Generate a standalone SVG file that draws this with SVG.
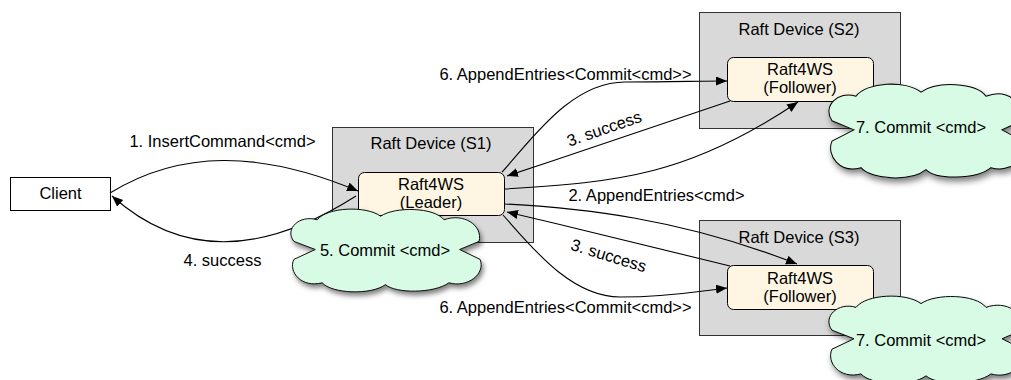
<svg xmlns="http://www.w3.org/2000/svg" width="1011" height="380" viewBox="0 0 1011 380">
<style>
text{font-family:"Liberation Sans",Arial,sans-serif;font-size:16.5px;fill:#000}
.c{text-anchor:middle}
.dev{fill:#d9d9d9;stroke:#333;stroke-width:1}
.proc{fill:#fef6e3;stroke:#000;stroke-width:1}
.cloud{fill:#d8fbe5;stroke:#000;stroke-width:1;filter:url(#sh)}
.e{fill:none;stroke:#000;stroke-width:1.1}
.a{marker-end:url(#ah)}
</style>
<defs>
<marker id="ah" markerUnits="userSpaceOnUse" markerWidth="12" markerHeight="10" refX="11" refY="4.5" orient="auto">
<path d="M0,0 L11,4.5 L0,9 Z" fill="#000"/>
</marker>
<filter id="sh" x="-10%" y="-10%" width="130%" height="140%">
<feDropShadow dx="2" dy="4" stdDeviation="3" flood-color="#000" flood-opacity="0.5"/>
</filter>
<path id="cl" d="M28 45 L6 36 C-4 22 12 6 30 12 C40 -2 80 -4 95 8 C110 -3 150 -2 160 12 C180 4 200 18 196 36 L176 45 L197 56 C203 72 184 88 165 82 C150 94 110 94 100 84 C85 96 45 94 35 82 C14 88 0 70 6 56 Z"/>
</defs>

<g id="client">
<rect x="10.5" y="177.5" width="100" height="33" fill="#fff" stroke="#000"/>
<text class="c" x="60.5" y="199">Client</text>
</g>

<g id="s1">
<rect class="dev" x="332.5" y="127.5" width="201" height="115"/>
<text class="c" x="431" y="149">Raft Device (S1)</text>
</g>
<g id="leader">
<rect class="proc" x="358.5" y="172.5" width="146" height="43" rx="6"/>
<text class="c" x="431" y="190">Raft4WS</text>
<text class="c" x="431" y="208">(Leader)</text>
</g>

<g id="s2">
<rect class="dev" x="699.5" y="12.5" width="201" height="116"/>
<text class="c" x="799" y="35">Raft Device (S2)</text>
</g>
<g id="follower2">
<rect class="proc" x="727.5" y="57.5" width="146" height="44" rx="6"/>
<text class="c" x="800" y="75">Raft4WS</text>
<text class="c" x="800" y="93">(Follower)</text>
</g>

<g id="s3">
<rect class="dev" x="699.5" y="220.5" width="201" height="115"/>
<text class="c" x="799" y="243">Raft Device (S3)</text>
</g>
<g id="follower3">
<rect class="proc" x="727.5" y="265.5" width="146" height="44" rx="6"/>
<text class="c" x="800" y="284">Raft4WS</text>
<text class="c" x="800" y="302">(Follower)</text>
</g>

<g id="connectors">
<path class="e a" d="M110,193 C180,150 260,150 358,191"/>
<path class="e a" d="M356,196 C260,257 180,257 112,196"/>
<path class="e a" d="M502,172 C530,142 570,82 625,82 C670,82 700,81 727,81"/>
<path class="e a" d="M730,101 C650,128 580,152 507,176"/>
<path class="e a" d="M505,189 C620,182 690,175 798,102"/>
<path class="e a" d="M505,204 C580,208 680,218 797,264"/>
<path class="e a" d="M730,266 C650,246 580,229 507,212"/>
<path class="e a" d="M503,215 C530,245 570,297 620,297 C670,297 700,291 727,288"/>
<text class="c" x="222.5" y="147">1. InsertCommand&lt;cmd&gt;</text>
<text class="c" x="222.5" y="266">4. success</text>
<text class="c" x="565.5" y="80">6. AppendEntries&lt;Commit&lt;cmd&gt;&gt;</text>
<text class="c" transform="translate(606,134) rotate(-19)">3. success</text>
<text class="c" x="656.5" y="201">2. AppendEntries&lt;cmd&gt;</text>
<text class="c" transform="translate(607,261) rotate(17)">3. success</text>
<text class="c" x="565.5" y="313">6. AppendEntries&lt;Commit&lt;cmd&gt;&gt;</text>
</g>

<g id="commit5">
<use href="#cl" class="cloud" transform="translate(288,209) scale(0.975,0.9)"/>
<text class="c" x="385" y="256">5. Commit &lt;cmd&gt;</text>
</g>
<g id="commit7a">
<use href="#cl" class="cloud" transform="translate(826,84) scale(1,1.02)"/>
<text class="c" x="921" y="133">7. Commit &lt;cmd&gt;</text>
</g>
<g id="commit7b">
<use href="#cl" class="cloud" transform="translate(826,296) scale(1,0.95)"/>
<text class="c" x="921" y="346">7. Commit &lt;cmd&gt;</text>
</g>
</svg>
